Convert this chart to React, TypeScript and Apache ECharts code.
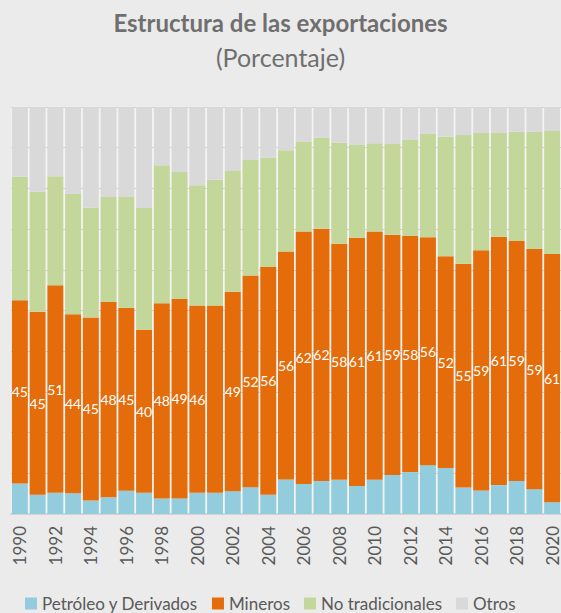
import React, { useEffect, useRef } from "react";
import * as echarts from "echarts";

const years = [
  "1990","1991","1992","1993","1994","1995","1996","1997","1998","1999",
  "2000","2001","2002","2003","2004","2005","2006","2007","2008","2009",
  "2010","2011","2012","2013","2014","2015","2016","2017","2018","2019","2020",
];
const petroleo = [7.5,4.7,5.2,5.1,3.3,4.1,5.7,5.2,3.8,3.8,5.2,5.2,5.6,6.6,4.7,8.5,7.4,8.1,8.4,6.9,8.4,9.6,10.3,12.0,11.3,6.5,5.8,7.1,8.1,6.1,2.9];
const mineros = [45,45,51,44,45,48,45,40,48,49,46,46,49,52,56,56,62,62,58,61,61,59,58,56,52,55,59,61,59,59,61];
const noTradicionales = [30.4,29.5,26.8,29.5,27.0,25.8,27.2,30.0,33.9,31.2,29.6,30.9,29.7,28.4,26.8,24.9,22.0,22.4,24.8,22.8,21.7,22.3,23.6,25.4,29.4,31.6,28.8,25.5,26.8,28.8,30.2];
const otros = [17.1,20.8,17.0,21.4,24.7,22.1,22.1,24.8,14.3,16.0,19.2,17.9,15.7,13.0,12.5,10.6,8.6,7.5,8.8,9.3,8.9,9.1,8.1,6.6,7.3,6.9,6.4,6.4,6.1,6.1,5.9];
const hiddenLabelYears = ["2001"];

const FONT = "Lato";

export default function App() {
  const ref = useRef<HTMLDivElement>(null);
  useEffect(() => {
    if (!ref.current) return;
    const chart = echarts.init(ref.current, undefined, { renderer: "svg" });
    const barBase = {
      type: "bar" as const,
      stack: "total",
      barCategoryGap: "10%",
    };
    chart.setOption({
      animation: false,
      backgroundColor: "#ebebeb",
      title: {
        text: "Estructura de las exportaciones",
        subtext: "(Porcentaje)",
        left: "center",
        top: 5,
        itemGap: 10,
        textStyle: { fontFamily: FONT, fontWeight: "bold", fontSize: 24, color: "#6f6f6f" },
        subtextStyle: { fontFamily: FONT, fontSize: 25, color: "#6f6f6f" },
      },
      legend: {
        bottom: -4,
        left: 20,
        icon: "rect",
        itemWidth: 12,
        itemHeight: 12,
        itemGap: 14,
        textStyle: { fontFamily: FONT, fontSize: 17, color: "#595959" },
        data: ["Petróleo y Derivados", "Mineros", "No tradicionales", "Otros"],
      },
      grid: {
        left: 11,
        right: -2,
        top: 107,
        bottom: 99,
        show: true,
        backgroundColor: "#f4f4f4",
        borderWidth: 0,
      },
      xAxis: {
        type: "category",
        data: years,
        axisLine: { lineStyle: { color: "#d4d4d4", width: 2 } },
        axisTick: { show: false },
        axisLabel: {
          interval: 1,
          rotate: 90,
          margin: 12,
          fontFamily: FONT,
          fontSize: 17,
          color: "#595959",
        },
      },
      yAxis: {
        type: "value",
        min: 0,
        max: 100,
        interval: 10,
        axisLabel: { show: false },
        axisLine: { show: false },
        axisTick: { show: false },
        splitLine: { lineStyle: { color: "#d2d2d2", width: 1 } },
      },
      series: [
        { ...barBase, name: "Petróleo y Derivados", data: petroleo, itemStyle: { color: "#93cddd" } },
        {
          ...barBase,
          name: "Mineros",
          data: mineros.map((v, i) =>
            hiddenLabelYears.includes(years[i]) ? { value: v, label: { show: false } } : v
          ),
          itemStyle: { color: "#e46c0a" },
          label: {
            show: true,
            position: "inside",
            color: "#ffffff",
            fontFamily: FONT,
            fontSize: 14,
            formatter: (p: any) => String(Math.round(p.value)),
          },
        },
        { ...barBase, name: "No tradicionales", data: noTradicionales, itemStyle: { color: "#c4d79b" } },
        { ...barBase, name: "Otros", data: otros, itemStyle: { color: "#d9d9d9" } },
      ],
    });
    return () => chart.dispose();
  }, []);
  return (
    <div
      ref={ref}
      style={{ position: "absolute", left: 0, top: 0, width: 561, height: 613 }}
    />
  );
}
